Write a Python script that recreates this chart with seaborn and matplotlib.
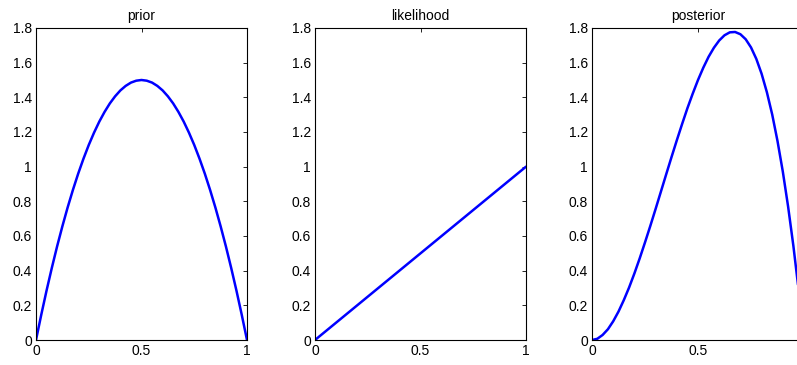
import numpy as np
import pandas as pd
import matplotlib
matplotlib.use('Agg')
import matplotlib.pyplot as plt
import seaborn as sns

# values (x step 0.025)
x_grid = [0.0, 0.025, 0.05, 0.075, 0.1, 0.125, 0.15, 0.175, 0.2, 0.225, 0.25,
          0.275, 0.3, 0.325, 0.35, 0.375, 0.4, 0.425, 0.45, 0.475, 0.5,
          0.525, 0.55, 0.575, 0.6, 0.625, 0.65, 0.675, 0.7, 0.725, 0.75,
          0.775, 0.8, 0.825, 0.85, 0.875, 0.9, 0.925, 0.95, 0.975, 1.0]
prior = [0.0, 0.146, 0.285, 0.416, 0.54, 0.656, 0.765, 0.866, 0.96, 1.046, 1.125,
         1.196, 1.26, 1.316, 1.365, 1.406, 1.44, 1.466, 1.485, 1.496, 1.5,
         1.496, 1.485, 1.466, 1.44, 1.406, 1.365, 1.316, 1.26, 1.196, 1.125,
         1.046, 0.96, 0.866, 0.765, 0.656, 0.54, 0.416, 0.285, 0.146, 0.0]
like_x = [0.0, 1.0]
likelihood = [0.0, 1.0]
posterior = [0.0, 0.007, 0.029, 0.062, 0.108, 0.164, 0.23, 0.303, 0.384, 0.471, 0.563,
             0.658, 0.756, 0.856, 0.956, 1.055, 1.152, 1.246, 1.337, 1.421, 1.5,
             1.571, 1.634, 1.686, 1.728, 1.758, 1.775, 1.777, 1.764, 1.735, 1.688,
             1.622, 1.536, 1.429, 1.301, 1.148, 0.972, 0.77, 0.542, 0.285, 0.0]

titles = ['prior', 'likelihood', 'posterior']
yticks = [0, 0.2, 0.4, 0.6, 0.8, 1, 1.2, 1.4, 1.6, 1.8]
ytick_labels = ['0', '0.2', '0.4', '0.6', '0.8', '1', '1.2', '1.4', '1.6', '1.8']
xticks = [0, 0.5, 1]
xtick_labels = ['0', '0.5', '1']

sns.set_style('white')
plt.rcParams['font.family'] = ['Liberation Sans', 'DejaVu Sans']
plt.rcParams['text.color'] = 'black'
plt.rcParams['xtick.color'] = 'black'
plt.rcParams['ytick.color'] = 'black'
plt.rcParams['xtick.direction'] = 'in'
plt.rcParams['ytick.direction'] = 'in'

W, H = 797, 365
fig = plt.figure(figsize=(W / 100, H / 100), dpi=100)

# axes boxes in pixels: left, top, width, height (last one runs past the right edge)
boxes = [(36, 28, 211, 312), (315, 28, 211, 312), (592, 28, 212, 312)]
data = [(x_grid, prior), (like_x, likelihood), (x_grid, posterior)]

for i, ((l, t, w, h), (xs, ys), title) in enumerate(zip(boxes, data, titles)):
    ax = fig.add_axes([l / W, 1 - (t + h) / H, w / W, h / H])
    df = pd.DataFrame({'x': xs, 'y': ys})
    sns.lineplot(data=df, x='x', y='y', ax=ax, color='#0000ff', linewidth=1.8,
                 sort=False, solid_joinstyle='round')
    ax.set_xlim(0, 1)
    ax.set_ylim(0, 1.8)
    ax.set_xticks(xticks)
    # the "1" of the last panel falls outside the picture in the reference
    ax.set_xticklabels(xtick_labels if i < 2 else ['0', '0.5', ''])
    ax.set_yticks(yticks)
    ax.set_yticklabels(ytick_labels)
    ax.set_xlabel('')
    ax.set_ylabel('')
    ax.set_title(title, fontsize=10, pad=6, color='black')
    ax.tick_params(axis='both', labelsize=10, length=3, width=0.6,
                   top=True, right=True, pad=3)
    for sp in ax.spines.values():
        sp.set_color('black')
        sp.set_linewidth(0.8)

fig.savefig('out.png', dpi=100)
